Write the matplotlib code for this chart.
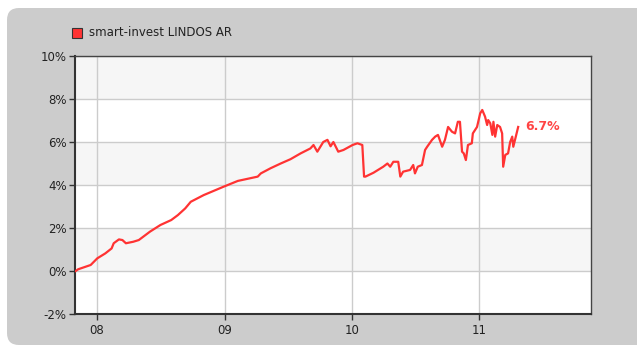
import matplotlib
matplotlib.use("Agg")
import matplotlib.pyplot as plt
import matplotlib.dates as mdates
from matplotlib.patches import FancyBboxPatch, Rectangle
import pandas as pd

series_name = "smart-invest LINDOS AR"

dates = [
    "2007-11-01", "2007-11-08", "2007-12-14", "2008-01-02", "2008-01-25", "2008-02-12",
    "2008-02-18", "2008-03-04", "2008-03-14", "2008-03-24", "2008-04-14", "2008-04-30",
    "2008-06-01", "2008-07-01", "2008-08-01", "2008-08-20", "2008-09-10", "2008-09-26",
    "2008-11-02", "2008-12-29", "2009-02-08", "2009-04-06", "2009-04-15", "2009-05-13",
    "2009-06-11", "2009-07-09", "2009-08-07", "2009-09-04", "2009-09-13", "2009-09-24",
    "2009-10-11", "2009-10-23", "2009-11-01", "2009-11-09", "2009-11-23", "2009-12-08",
    "2010-01-03", "2010-01-17", "2010-01-31", "2010-02-05", "2010-02-09", "2010-03-04",
    "2010-04-01", "2010-04-13", "2010-04-21", "2010-04-30", "2010-05-14", "2010-05-20",
    "2010-05-28", "2010-06-17", "2010-06-26", "2010-07-01", "2010-07-09", "2010-07-21",
    "2010-07-30", "2010-08-05", "2010-08-19", "2010-08-28", "2010-09-05", "2010-09-17",
    "2010-09-25", "2010-10-04", "2010-10-15", "2010-10-24", "2010-11-01", "2010-11-07",
    "2010-11-13", "2010-11-18", "2010-11-24", "2010-11-30", "2010-12-11", "2010-12-14",
    "2010-12-26", "2011-01-04", "2011-01-10", "2011-01-18", "2011-01-24", "2011-01-27",
    "2011-02-02", "2011-02-08", "2011-02-11", "2011-02-16", "2011-02-22", "2011-03-02",
    "2011-03-08", "2011-03-11", "2011-03-17", "2011-03-25", "2011-03-31", "2011-04-06",
    "2011-04-09", "2011-04-15", "2011-04-23",
]
returns_pct = [
    0.00, 0.08, 0.28, 0.59, 0.82, 1.05,
    1.29, 1.47, 1.44, 1.29, 1.36, 1.44,
    1.83, 2.14, 2.37, 2.60, 2.91, 3.22,
    3.53, 3.92, 4.19, 4.39, 4.54, 4.78,
    5.00, 5.20, 5.47, 5.70, 5.86, 5.55,
    6.00, 6.10, 5.80, 6.00, 5.55, 5.63,
    5.86, 5.94, 5.86, 4.39, 4.39, 4.57,
    4.85, 5.00, 4.85, 5.08, 5.08, 4.39,
    4.62, 4.70, 4.93, 4.54, 4.85, 4.93,
    5.63, 5.78, 6.10, 6.25, 6.33, 5.78,
    6.10, 6.70, 6.48, 6.40, 6.94, 6.94,
    5.55, 5.47, 5.16, 5.86, 5.94, 6.40,
    6.70, 7.33, 7.49, 7.18, 6.79, 7.02,
    6.87, 6.33, 6.94, 6.25, 6.79, 6.70,
    6.40, 4.85, 5.40, 5.47, 6.00, 6.25,
    5.78, 6.17, 6.70,
]
y_ticks = [-2, 0, 2, 4, 6, 8, 10]
x_range = ("2007-10-30", "2011-11-17")

line_color = "#ff3333"
panel_color = "#cccccc"
band_color = "#f6f6f6"
grid_color = "#cccccc"
text_color = "#222222"

W, H = 637.0, 347.0
fig = plt.figure(figsize=(W / 100, H / 100), dpi=100)
fig.patch.set_facecolor("white")

# rounded grey panel behind the chart (inch coordinates)
panel = FancyBboxPatch((0.07, 0.02), 6.30 + 0.15, 3.37,
                       boxstyle="round,pad=0,rounding_size=0.12",
                       transform=fig.dpi_scale_trans, facecolor=panel_color,
                       edgecolor="none", zorder=-5)
fig.patches.append(panel)

ax = fig.add_axes([75 / W, 1 - 314 / H, (590.7 - 75) / W, (314 - 56) / H])
ax.set_zorder(2)
ax.set_facecolor("white")

x = pd.to_datetime(dates)
x0, x1 = pd.to_datetime(x_range[0]), pd.to_datetime(x_range[1])

# alternating horizontal bands
for lo in (0, 4, 8):
    ax.axhspan(lo, lo + 2, facecolor=band_color, edgecolor="none", zorder=0)

ax.plot(x, returns_pct, color=line_color, lw=1.6, zorder=3, solid_joinstyle="round")

ax.annotate(f"{returns_pct[-1]:.1f}%", xy=(x[-1], returns_pct[-1]),
            xytext=(5, 0), textcoords="offset points", va="center", ha="left",
            color="#ff4444", fontsize=9, fontweight="bold")

ax.set_xlim(x0, x1)
ax.set_ylim(-2, 10)
ax.set_yticks(y_ticks)
ax.set_yticklabels([f"{v}%" for v in y_ticks])
ax.xaxis.set_major_locator(mdates.YearLocator())
ax.xaxis.set_major_formatter(mdates.DateFormatter("%y"))

ax.grid(True, color=grid_color, lw=1.0, zorder=1)
ax.set_axisbelow(True)

ax.tick_params(axis="both", direction="out", length=4, width=1.0, color="#333333",
               labelsize=8.5, labelcolor=text_color)
ax.tick_params(axis="y", pad=2)
ax.tick_params(axis="x", pad=3)
for side in ("top", "right"):
    ax.spines[side].set_color("#444444")
    ax.spines[side].set_linewidth(1.0)
for side in ("left", "bottom"):
    ax.spines[side].set_color("#333333")
    ax.spines[side].set_linewidth(1.5)

# legend entry above the plot
fig.patches.append(Rectangle((72 / W, 1 - 38 / H), 10 / W, 10 / H,
                             transform=fig.transFigure, facecolor=line_color,
                             edgecolor="#333333", lw=0.8, zorder=2))
fig.text(89 / W, 1 - 33 / H, series_name, fontsize=8.5, color=text_color,
         va="center", ha="left")

fig.savefig("out.png", dpi=100, facecolor=fig.get_facecolor())
